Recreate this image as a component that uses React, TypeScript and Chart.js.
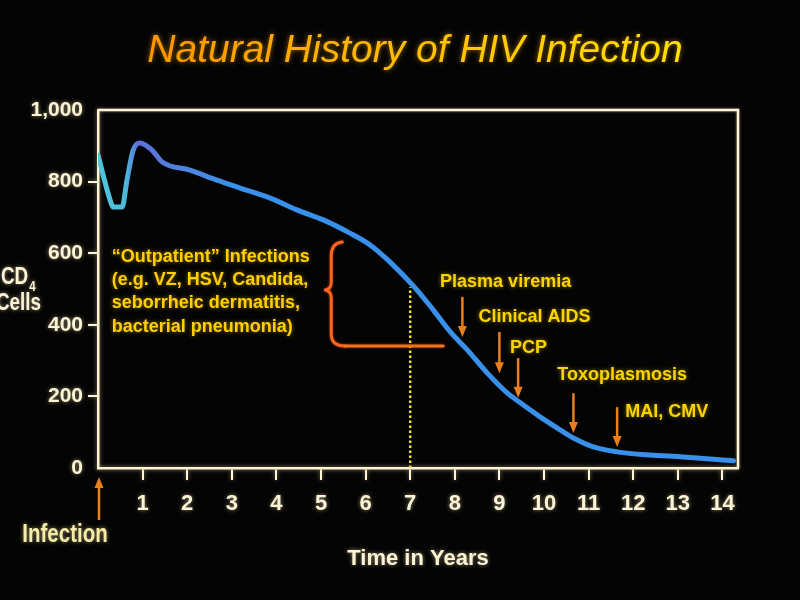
import React, { useEffect, useRef } from 'react';
import { Chart, registerables } from 'chart.js';

Chart.register(...registerables);

// ---- data ----
const years = [0, 0.27, 0.34, 0.54, 0.65, 0.79, 0.94, 1.21, 1.44, 2.06, 2.67, 3.19, 3.86, 4.46, 5.05, 5.65, 6.1, 6.55, 7.11, 7.52, 7.9, 8.28, 8.73, 9.18, 9.47, 9.92, 10.37, 10.66, 11.11, 11.64, 12.38, 13.13, 14.25];
const cd4 = [874, 749, 729, 729, 804, 888, 908, 888, 855, 832, 804, 782, 754, 721, 693, 656, 623, 575, 503, 441, 380, 330, 265, 209, 182, 142, 106, 84, 59, 45, 36, 31, 20];

const xTickValues = [1, 2, 3, 4, 5, 6, 7, 8, 9, 10, 11, 12, 13, 14];
const xTickLabels = ['1', '2', '3', '4', '5', '6', '7', '8', '9', '10', '11', '12', '13', '14'];
const yTickValues = [0, 200, 400, 600, 800, 1000];
const yTickLabels = ['0', '200', '400', '600', '800', '1,000'];

const markerYears = [7, 7];
const markerCd4 = [0, 505];

const titleText = 'Natural History of HIV Infection';
const xTitle = 'Time in Years';
const yTitleMain = 'CD';
const yTitleSub = '4';
const yTitle2 = 'Cells';
const infectionLabel = 'Infection';

const outpatientLines = ['\u201COutpatient\u201D Infections', '(e.g. VZ, HSV, Candida,', 'seborrheic dermatitis,', 'bacterial pneumonia)'];
const outpatientAnchor = { x: 0.31, y: 590 };
const brace = { x: 5.23, top: 631, bottom: 341, end: 7.74 };

const eventLabels = ['Plasma viremia', 'Clinical AIDS', 'PCP', 'Toxoplasmosis', 'MAI, CMV'];
const eventArrowYears = [8.17, 9.0, 9.42, 10.66, 11.64];
const eventArrowTop = [478, 380, 307, 209, 170];
const eventArrowBottom = [366, 265, 196, 98, 59];
const eventLabelYears = [7.67, 8.53, 9.24, 10.3, 11.82];
const eventLabelCd4 = [520, 422, 335, 260, 156];

// ---- styles ----
const CREAM = '#fdf4d6';
const SANS = "'Liberation Sans', Arial, sans-serif";
const ORANGE = '#e8801e';
const YELLOW = '#ffcf00';
const CONDENSE = 0.82;

function condensedText(ctx: CanvasRenderingContext2D, text: string, x: number, y: number, align: CanvasTextAlign) {
  ctx.save();
  ctx.translate(x, y);
  ctx.scale(CONDENSE, 1);
  ctx.textAlign = align;
  ctx.fillText(text, 0, 0);
  ctx.restore();
}

function drawArrow(ctx: CanvasRenderingContext2D, x: number, y1: number, y2: number, color: string) {
  ctx.save();
  ctx.strokeStyle = color;
  ctx.fillStyle = color;
  ctx.lineWidth = 2.5;
  ctx.beginPath();
  if (y2 > y1) {
    ctx.moveTo(x, y1);
    ctx.lineTo(x, y2 - 9);
    ctx.stroke();
    ctx.beginPath();
    ctx.moveTo(x - 4.5, y2 - 11);
    ctx.lineTo(x + 4.5, y2 - 11);
    ctx.lineTo(x, y2);
  } else {
    ctx.moveTo(x, y1);
    ctx.lineTo(x, y2 + 9);
    ctx.stroke();
    ctx.beginPath();
    ctx.moveTo(x - 4.5, y2 + 11);
    ctx.lineTo(x + 4.5, y2 + 11);
    ctx.lineTo(x, y2);
  }
  ctx.closePath();
  ctx.fill();
  ctx.restore();
}

const decorPlugin = {
  id: 'decor',
  beforeDraw(chart: any) {
    const ctx: CanvasRenderingContext2D = chart.ctx;
    ctx.save();
    ctx.fillStyle = '#040404';
    ctx.fillRect(0, 0, chart.width, chart.height);
    ctx.restore();
    ctx.save();
    ctx.shadowColor = 'rgba(255,240,190,0.55)';
    ctx.shadowBlur = 4;
  },
  beforeDatasetsDraw(chart: any) {
    const ctx: CanvasRenderingContext2D = chart.ctx;
    ctx.restore();
    const { left, right, top, bottom } = chart.chartArea;
    ctx.save();
    ctx.shadowColor = 'rgba(255,240,190,0.5)';
    ctx.shadowBlur = 3;
    ctx.strokeStyle = CREAM;
    ctx.lineWidth = 2.5;
    ctx.beginPath();
    ctx.moveTo(left, top);
    ctx.lineTo(right, top);
    ctx.lineTo(right, bottom);
    ctx.stroke();
    ctx.restore();
  },
  afterDatasetsDraw(chart: any) {
    const ctx: CanvasRenderingContext2D = chart.ctx;
    const xs = chart.scales.x;
    const ys = chart.scales.y;
    const area = chart.chartArea;

    // Title
    ctx.save();
    ctx.font = `italic 39px ${SANS}`;
    ctx.textAlign = 'center';
    ctx.textBaseline = 'middle';
    const tw = ctx.measureText(titleText).width;
    const tx = 415;
    const g = ctx.createLinearGradient(tx - tw / 2, 0, tx + tw / 2, 0);
    g.addColorStop(0, '#ff9400');
    g.addColorStop(0.5, '#ffbf00');
    g.addColorStop(1, '#ffe000');
    ctx.fillStyle = g;
    ctx.shadowColor = 'rgba(255,170,0,0.6)';
    ctx.shadowBlur = 5;
    ctx.fillText(titleText, tx, 51);
    ctx.restore();

    // Y axis title
    ctx.save();
    ctx.fillStyle = CREAM;
    ctx.shadowColor = 'rgba(255,240,190,0.55)';
    ctx.shadowBlur = 4;
    ctx.textBaseline = 'alphabetic';
    ctx.font = `bold 23px ${SANS}`;
    condensedText(ctx, yTitleMain, 1, 284, 'left');
    const cw = ctx.measureText(yTitleMain).width * CONDENSE;
    ctx.font = `bold 14px ${SANS}`;
    condensedText(ctx, yTitleSub, 1 + cw + 1, 291, 'left');
    ctx.font = `bold 23px ${SANS}`;
    condensedText(ctx, yTitle2, 41, 310, 'right');
    ctx.restore();

    // Infection arrow + label
    const x0 = xs.getPixelForValue(0);
    drawArrow(ctx, x0 + 1, area.bottom + 52, area.bottom + 9, ORANGE);
    ctx.save();
    ctx.fillStyle = '#f6eca8';
    ctx.shadowColor = 'rgba(255,240,170,0.55)';
    ctx.shadowBlur = 4;
    ctx.font = `bold 25px ${SANS}`;
    ctx.textBaseline = 'middle';
    condensedText(ctx, infectionLabel, x0 - 33, area.bottom + 67, 'center');
    ctx.restore();

    // Outpatient text
    ctx.save();
    ctx.fillStyle = YELLOW;
    ctx.shadowColor = 'rgba(255,200,0,0.55)';
    ctx.shadowBlur = 4;
    ctx.font = `bold 18px ${SANS}`;
    ctx.textAlign = 'left';
    ctx.textBaseline = 'middle';
    const ox = xs.getPixelForValue(outpatientAnchor.x);
    const oy = ys.getPixelForValue(outpatientAnchor.y);
    outpatientLines.forEach((l, i) => ctx.fillText(l, ox, oy + i * 23.3));
    ctx.restore();

    // Brace
    const bx = xs.getPixelForValue(brace.x);
    const bt = ys.getPixelForValue(brace.top);
    const bb = ys.getPixelForValue(brace.bottom);
    const be = xs.getPixelForValue(brace.end);
    const bm = (bt + bb) / 2 - 4;
    ctx.save();
    ctx.lineWidth = 3;
    ctx.lineCap = 'round';
    ctx.lineJoin = 'round';
    ctx.shadowColor = 'rgba(255,100,20,0.5)';
    ctx.shadowBlur = 3;
    ctx.strokeStyle = '#ff641e';
    ctx.beginPath();
    ctx.moveTo(bx + 11, bt);
    ctx.quadraticCurveTo(bx, bt + 1, bx, bt + 14);
    ctx.lineTo(bx, bm - 8);
    ctx.quadraticCurveTo(bx, bm - 1, bx - 6, bm);
    ctx.quadraticCurveTo(bx, bm + 1, bx, bm + 8);
    ctx.lineTo(bx, bb - 12);
    ctx.quadraticCurveTo(bx, bb, bx + 14, bb);
    ctx.stroke();
    ctx.beginPath();
    ctx.moveTo(bx + 14, bb);
    ctx.lineTo(be, bb);
    ctx.strokeStyle = '#f0741e';
    ctx.stroke();
    ctx.restore();

    // Event arrows and labels
    eventLabels.forEach((label, i) => {
      const ax = xs.getPixelForValue(eventArrowYears[i]);
      drawArrow(ctx, ax, ys.getPixelForValue(eventArrowTop[i]), ys.getPixelForValue(eventArrowBottom[i]), ORANGE);
      ctx.save();
      ctx.fillStyle = '#fbd400';
      ctx.shadowColor = 'rgba(255,210,0,0.55)';
      ctx.shadowBlur = 4;
      ctx.font = `bold 18px ${SANS}`;
      ctx.textAlign = 'left';
      ctx.textBaseline = 'middle';
      ctx.fillText(label, xs.getPixelForValue(eventLabelYears[i]), ys.getPixelForValue(eventLabelCd4[i]));
      ctx.restore();
    });
  },
};

export default function App() {
  const ref = useRef<HTMLCanvasElement | null>(null);
  useEffect(() => {
    document.body.style.margin = '0';
    document.body.style.background = '#040404';
    const canvas = ref.current;
    if (!canvas) return;
    const curve = years.map((x, i) => ({ x, y: cd4[i] }));
    const marker = markerYears.map((x, i) => ({ x, y: markerCd4[i] }));
    const tickColor = (c: any) => (c.tick && (c.tick.value === 0 || c.tick.value === 1000) ? 'rgba(0,0,0,0)' : CREAM);
    const chart = new Chart(canvas, {
      type: 'line',
      data: {
        datasets: [
          {
            data: curve,
            borderWidth: 5,
            pointRadius: 0,
            cubicInterpolationMode: 'monotone',
            borderCapStyle: 'round',
            borderJoinStyle: 'round',
            borderColor: (c: any) => {
              const ch = c.chart;
              if (!ch.chartArea) return '#3a8ee2';
              const xs = ch.scales.x;
              const g = ch.ctx.createLinearGradient(xs.getPixelForValue(0), 0, xs.getPixelForValue(3), 0);
              g.addColorStop(0, '#4ec6dc');
              g.addColorStop(0.2, '#4cbcdc');
              g.addColorStop(0.3, '#5b72da');
              g.addColorStop(0.45, '#5878dc');
              g.addColorStop(0.7, '#4a88e0');
              g.addColorStop(1, '#3890ea');
              return g;
            },
          },
          {
            data: marker,
            borderWidth: 2.5,
            pointRadius: 0,
            borderColor: '#ece43a',
            borderDash: [2.5, 2.5],
          },
        ],
      },
      options: {
        animation: false,
        responsive: false,
        devicePixelRatio: 1,
        layout: { padding: { top: 110, right: 62, left: 0, bottom: 0 } },
        plugins: { legend: { display: false }, tooltip: { enabled: false }, title: { display: false } },
        scales: {
          x: {
            type: 'linear',
            min: 0,
            max: 14.35,
            afterFit: (s: any) => { s.height = 132; },
            afterBuildTicks: (s: any) => { s.ticks = xTickValues.map((value) => ({ value })); },
            ticks: {
              autoSkip: false,
              maxRotation: 0,
              color: CREAM,
              font: { family: SANS, size: 22, weight: 'bold' },
              padding: 11,
              callback: (_v: any, i: number) => xTickLabels[i],
            },
            grid: { drawOnChartArea: false, drawTicks: true, tickLength: 12, color: CREAM, lineWidth: 2 },
            border: { display: true, color: CREAM, width: 2.5 },
            title: {
              display: true,
              text: xTitle,
              color: CREAM,
              font: { family: SANS, size: 22, weight: 'bold' },
              padding: { top: 0, bottom: 28 },
            },
          },
          y: {
            type: 'linear',
            min: 0,
            max: 1000,
            afterFit: (s: any) => { s.width = 98; },
            afterBuildTicks: (s: any) => { s.ticks = yTickValues.map((value) => ({ value })); },
            ticks: {
              color: CREAM,
              font: { family: SANS, size: 21, weight: 'bold' },
              padding: 5,
              callback: (_v: any, i: number) => yTickLabels[i],
            },
            grid: { drawOnChartArea: false, drawTicks: true, tickLength: 10, color: tickColor, lineWidth: 2 },
            border: { display: true, color: CREAM, width: 2.5 },
          },
        },
      },
      plugins: [decorPlugin],
    } as any);
    return () => chart.destroy();
  }, []);
  return (
    <div style={{ position: 'fixed', left: 0, top: 0, width: 800, height: 600, background: '#040404' }}>
      <canvas ref={ref} width={800} height={600} style={{ display: 'block', width: 800, height: 600 }} />
    </div>
  );
}
